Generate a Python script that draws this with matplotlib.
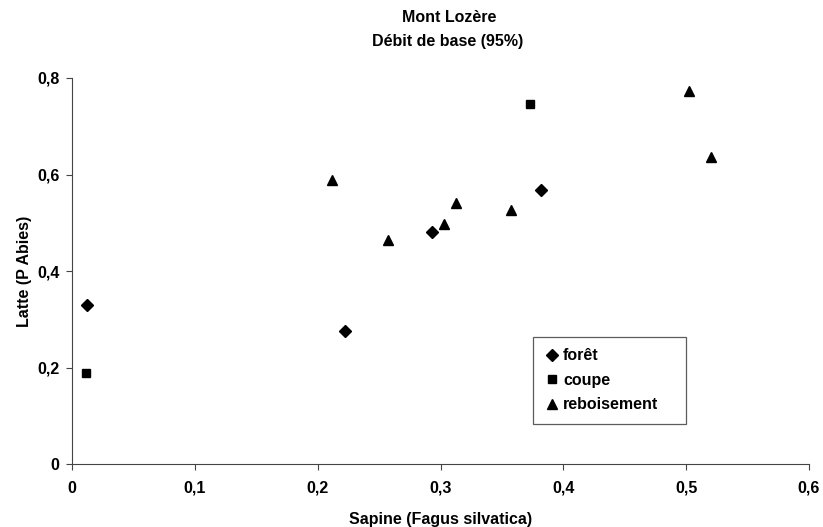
import matplotlib.pyplot as plt

# données
foret_x = [0.012, 0.222, 0.293, 0.382]
foret_y = [0.330, 0.276, 0.480, 0.567]

coupe_x = [0.011, 0.373]
coupe_y = [0.189, 0.747]

rebois_x = [0.212, 0.257, 0.303, 0.313, 0.357, 0.502, 0.520]
rebois_y = [0.589, 0.465, 0.497, 0.540, 0.526, 0.773, 0.637]

x_ticks = [0, 0.1, 0.2, 0.3, 0.4, 0.5, 0.6]
x_labels = ["0", "0,1", "0,2", "0,3", "0,4", "0,5", "0,6"]
y_ticks = [0, 0.2, 0.4, 0.6, 0.8]
y_labels = ["0", "0,2", "0,4", "0,6", "0,8"]

plt.rcParams['font.family'] = ['Liberation Sans', 'DejaVu Sans']
plt.rcParams['font.weight'] = 'bold'

fs = 11.5

fig = plt.figure(figsize=(8.23, 5.27), dpi=100)
ax = fig.add_axes([0.0875, 0.1195, 0.8955, 0.7325])

ax.plot(foret_x, foret_y, 'D', color='black', markersize=6.5, label='forêt')
ax.plot(coupe_x, coupe_y, 's', color='black', markersize=6, label='coupe')
ax.plot(rebois_x, rebois_y, '^', color='black', markersize=6.5, label='reboisement')

ax.set_xlim(0, 0.6)
ax.set_ylim(0, 0.8)
ax.set_xticks(x_ticks)
ax.set_xticklabels(x_labels)
ax.set_yticks(y_ticks)
ax.set_yticklabels(y_labels)
ax.tick_params(labelsize=fs, length=4, color='#444444')
ax.tick_params(axis='x', pad=8)
ax.tick_params(axis='y', pad=5)
for side in ['top', 'right']:
    ax.spines[side].set_visible(False)
for side in ['left', 'bottom']:
    ax.spines[side].set_color('#444444')

ax.set_xlabel("Sapine (Fagus silvatica)", fontsize=fs, fontweight='bold', labelpad=12)
ax.set_ylabel("Latte (P Abies)", fontsize=fs, fontweight='bold', labelpad=4)
fig.text(0.546, 0.966, "Mont Lozère", ha='center', va='center', fontsize=fs, fontweight='bold')
fig.text(0.544, 0.922, "Débit de base (95%)", ha='center', va='center', fontsize=fs, fontweight='bold')

leg = ax.legend(loc='upper left', bbox_to_anchor=(0.625, 0.109, 0.208, 0.22), mode='expand',
                fontsize=fs, frameon=True, fancybox=False, edgecolor='#333333',
                handletextpad=0.2, handlelength=1.0, labelspacing=0.6, borderpad=0.7,
                borderaxespad=0)
leg.get_frame().set_linewidth(0.9)

fig.savefig("out.png", dpi=100)
